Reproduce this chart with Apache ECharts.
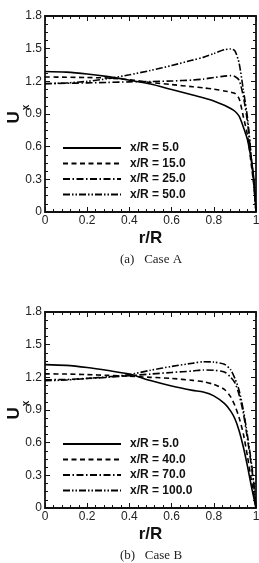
<!DOCTYPE html>
<html>
<head>
<meta charset="utf-8">
<script src="https://cdn.jsdelivr.net/npm/echarts@6/dist/echarts.min.js"></script>
<style>
  html, body { margin: 0; padding: 0; background: #fff; }
  #main { width: 259px; height: 563px; }
</style>
</head>
<body>
<div id="main"></div>
<script>
// r/R stations shared by both cases
var rR = [0, 0.1, 0.2, 0.3, 0.4, 0.5, 0.6, 0.7, 0.75, 0.8, 0.85, 0.88, 0.9, 0.92, 0.94, 0.96, 0.98, 0.99, 1];

// Case A
var namesA = ['x/R = 5.0', 'x/R = 15.0', 'x/R = 25.0', 'x/R = 50.0'];
var a5  = [1.29, 1.285, 1.268, 1.243, 1.21, 1.175, 1.125, 1.075, 1.05, 1.02, 0.98, 0.95, 0.925, 0.88, 0.78, 0.66, 0.45, 0.3, 0];
var a15 = [1.24, 1.238, 1.235, 1.23, 1.215, 1.19, 1.17, 1.15, 1.14, 1.128, 1.112, 1.1, 1.09, 1.04, 0.875, 0.7, 0.4, 0.24, 0];
var a25 = [1.18, 1.182, 1.186, 1.19, 1.195, 1.198, 1.203, 1.212, 1.22, 1.235, 1.248, 1.252, 1.245, 1.21, 1.06, 0.82, 0.45, 0.26, 0];
var a50 = [1.178, 1.185, 1.2, 1.225, 1.26, 1.3, 1.345, 1.395, 1.42, 1.455, 1.49, 1.497, 1.48, 1.366, 1.12, 0.86, 0.45, 0.26, 0];

// Case B
var namesB = ['x/R = 5.0', 'x/R = 40.0', 'x/R = 70.0', 'x/R = 100.0'];
var b5   = [1.317, 1.31, 1.29, 1.262, 1.23, 1.17, 1.12, 1.08, 1.065, 1.03, 0.96, 0.89, 0.82, 0.71, 0.56, 0.38, 0.18, 0.09, 0];
var b40  = [1.232, 1.23, 1.225, 1.218, 1.21, 1.2, 1.19, 1.172, 1.16, 1.135, 1.09, 1.02, 0.94, 0.83, 0.68, 0.47, 0.23, 0.12, 0];
var b70  = [1.178, 1.18, 1.19, 1.2, 1.215, 1.23, 1.245, 1.258, 1.268, 1.265, 1.25, 1.2, 1.15, 1.04, 0.87, 0.63, 0.36, 0.2, 0];
var b100 = [1.17, 1.175, 1.19, 1.205, 1.225, 1.265, 1.3, 1.33, 1.343, 1.34, 1.32, 1.27, 1.19, 1.08, 0.9, 0.66, 0.39, 0.22, 0];

var captions = ['(a)   Case A', '(b)   Case B'];

var dashes = ['solid', [5, 3.5], [7, 2.5, 1.5, 2.5], [7, 2, 1.5, 2, 1.5, 2]];

function pairs(ys) {
  return rR.map(function (r, i) { return [r, ys[i]]; });
}

var gridTops = [16, 312];
var plotH = 196;
var leftPx = 45;
var axisColor = '#111';
var labelFont = { fontFamily: 'Liberation Sans', fontSize: 12, color: '#222' };

var grids = [], xAxes = [], yAxes = [], series = [], legends = [], graphics = [];

[[namesA, [a5, a15, a25, a50]], [namesB, [b5, b40, b70, b100]]].forEach(function (c, gi) {
  grids.push({ left: leftPx, right: 3, top: gridTops[gi], height: plotH, containLabel: false, outerBoundsMode: 'none' });
  var xi = xAxes.length, yi = yAxes.length;
  var tickCommon = {
    axisLine: { show: true, onZero: false, lineStyle: { color: axisColor, width: 1.8 } },
    axisTick: { show: true, inside: true, length: 5, lineStyle: { color: axisColor, width: 1 } },
    minorTick: { show: true, splitNumber: 5, length: 3, lineStyle: { color: axisColor, width: 1 } },
    splitLine: { show: false }
  };
  // bottom x
  xAxes.push(Object.assign({
    gridIndex: gi, type: 'value', min: 0, max: 1, interval: 0.2, position: 'bottom',
    axisLabel: Object.assign({ margin: 3 }, labelFont),
    name: 'r/R', nameLocation: 'middle', nameGap: 18,
    nameTextStyle: { fontFamily: 'Liberation Sans', fontWeight: 'bold', fontSize: 17, color: '#111' }
  }, tickCommon));
  // top x (frame)
  xAxes.push(Object.assign({
    gridIndex: gi, type: 'value', min: 0, max: 1, interval: 0.2, position: 'top',
    axisLabel: { show: false }
  }, tickCommon));
  var yTick = JSON.parse(JSON.stringify(tickCommon));
  yTick.minorTick.splitNumber = 4;
  // left y
  yAxes.push(Object.assign({
    gridIndex: gi, type: 'value', min: 0, max: 1.8, interval: 0.3, position: 'left',
    axisLabel: Object.assign({
      margin: 3,
      formatter: function (v) { return v === 0 ? '0' : v.toFixed(1); }
    }, labelFont),
    name: '{u|U}{s|x}', nameLocation: 'middle', nameGap: 22, nameMoveOverlap: false,
    nameTextStyle: {
      rich: {
        u: { fontFamily: 'Liberation Sans', fontWeight: 'bold', fontSize: 17, color: '#111' },
        s: { fontFamily: 'Liberation Sans', fontWeight: 'bold', fontSize: 10, color: '#111', verticalAlign: 'bottom', padding: [0, 0, -8, 1] }
      }
    }
  }, yTick));
  // right y (frame)
  yAxes.push(Object.assign({
    gridIndex: gi, type: 'value', min: 0, max: 1.8, interval: 0.3, position: 'right',
    axisLabel: { show: false }
  }, yTick));

  c[0].forEach(function (nm, si) {
    series.push({
      name: nm, type: 'line', xAxisIndex: xi, yAxisIndex: yi,
      data: pairs(c[1][si]), smooth: 0.25, symbol: 'none', silent: true,
      itemStyle: { color: '#000' },
      lineStyle: { color: '#000', width: 1.6, type: dashes[si] },
      z: 3 + si
    });
  });

  legends.push({
    data: c[0], orient: 'vertical', left: 57, top: gridTops[gi] + 121,
    itemWidth: 58, itemHeight: 14, itemGap: 3.5, selectedMode: false,
    itemStyle: { opacity: 0 },
    textStyle: { fontFamily: 'Liberation Sans', fontWeight: 'bold', fontSize: 12, color: '#111', padding: [0, 0, 0, 4] }
  });

  graphics.push({
    type: 'text', x: 151, y: gridTops[gi] + plotH + 48,
    style: { text: captions[gi], align: 'center', verticalAlign: 'middle',
      font: '13px "Liberation Serif"', fill: '#222' }
  });
});

var myChart = echarts.init(document.getElementById('main'), null, { renderer: 'canvas' });
myChart.setOption({
  animation: false,
  backgroundColor: '#fff',
  grid: grids,
  xAxis: xAxes,
  yAxis: yAxes,
  legend: legends,
  graphic: graphics,
  series: series
});
</script>
</body>
</html>
